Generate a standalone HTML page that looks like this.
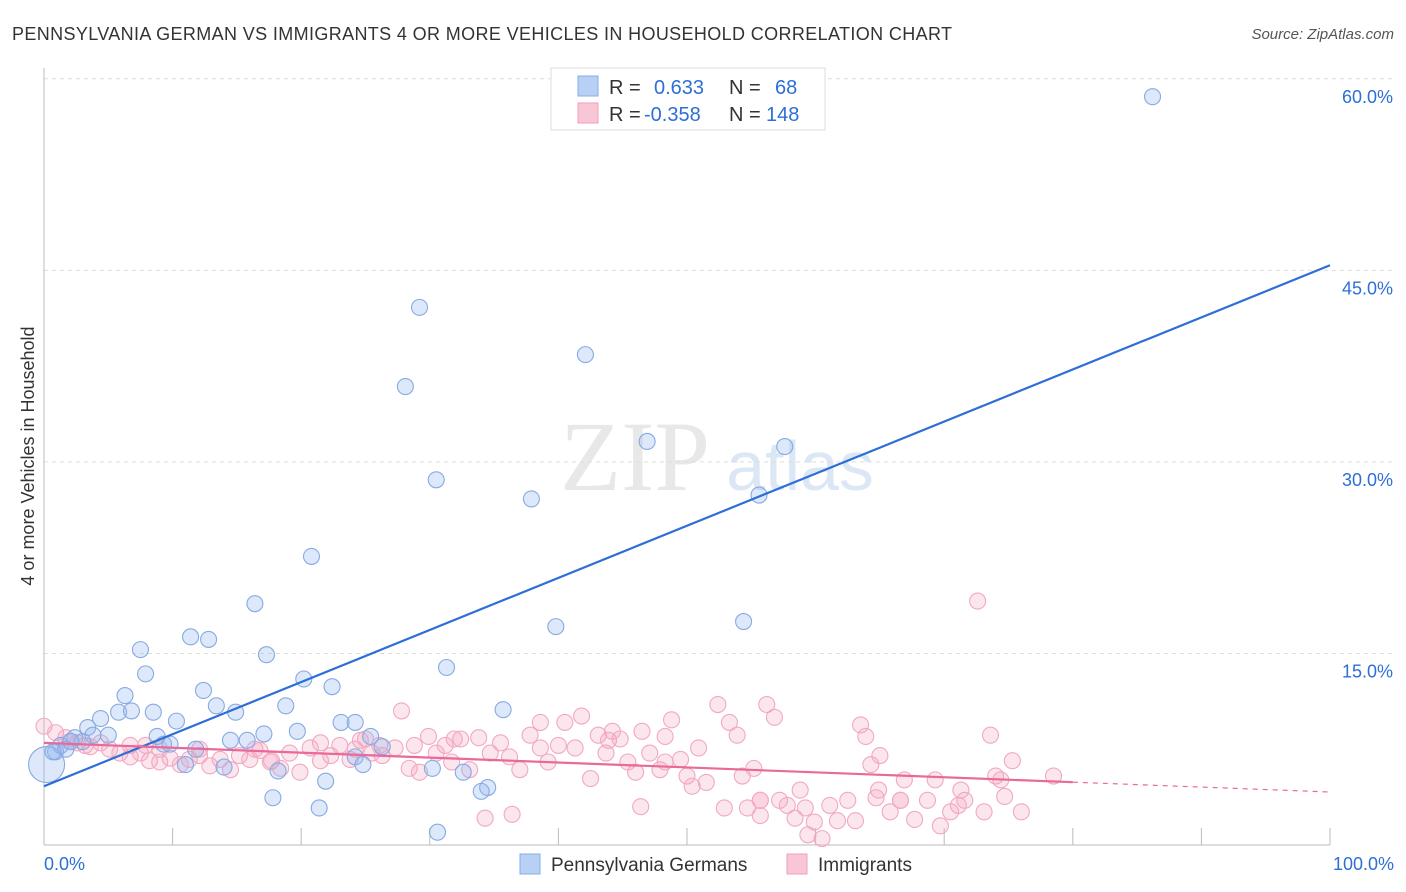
<!DOCTYPE html>
<html><head><meta charset="utf-8"><style>
body{margin:0;background:#fff;font-family:"Liberation Sans",sans-serif;}
#wrap{position:relative;width:1406px;height:892px;overflow:hidden;}
</style></head><body>
<div id="wrap">
<svg id="svg" width="1406" height="892" xmlns="http://www.w3.org/2000/svg">
<text x="12" y="40" font-size="18" fill="#333" textLength="940">PENNSYLVANIA GERMAN VS IMMIGRANTS 4 OR MORE VEHICLES IN HOUSEHOLD CORRELATION CHART</text>
<text x="1394" y="39" font-size="15" fill="#555" text-anchor="end" font-style="italic">Source: ZipAtlas.com</text>
<text x="0" y="0" transform="translate(34,456) rotate(-90)" font-size="18" fill="#333" text-anchor="middle">4 or more Vehicles in Household</text>
<text x="635" y="490" font-size="100" fill="#e8e8e8" font-family="Liberation Serif,serif" text-anchor="middle">ZIP</text>
<text x="800" y="490" font-size="70" fill="#dce7f6" text-anchor="middle">atlas</text>
<g id="grid"></g><g id="pts"></g><g id="lines"></g>
<rect x="551" y="68" width="274" height="62" fill="#fff" stroke="#ddd"/>
<rect x="578" y="76" width="20" height="20" fill="#b8d0f4" stroke="#86aee6"/>
<rect x="578" y="103" width="20" height="20" fill="#f9c6d6" stroke="#f0a0bb"/>
<g font-size="20">
<text x="609" y="94" fill="#333">R =</text><text x="654" y="94" fill="#2d6fd6">0.633</text>
<text x="729" y="94" fill="#333">N =</text><text x="775" y="94" fill="#2d6fd6">68</text>
<text x="609" y="121" fill="#333">R =</text><text x="644" y="121" fill="#2d6fd6">-0.358</text>
<text x="729" y="121" fill="#333">N =</text><text x="766" y="121" fill="#2d6fd6">148</text>
</g>
<rect x="520" y="854" width="20" height="20" fill="#b8d0f4" stroke="#86aee6"/>
<text x="551" y="871" font-size="19" fill="#333">Pennsylvania Germans</text>
<rect x="787" y="854" width="20" height="20" fill="#f9c6d6" stroke="#f0a0bb"/>
<text x="818" y="871" font-size="19" fill="#333">Immigrants</text>
<text x="44" y="870" font-size="18" fill="#2d6fd6">0.0%</text>
<text x="1394" y="870" font-size="18" fill="#2d6fd6" text-anchor="end">100.0%</text>
</svg>
</div>
<script>
const yTicks=[15,30,45,60];
const yTickLabels=["15.0%","30.0%","45.0%","60.0%"];
const blueX=[86.2,29.2,42.1,28.1,46.9,57.6,30.5,37.9,55.6,20.8,16.4,39.8,54.4,11.4,12.8,7.5,17.3,31.3,7.9,20.2,22.4,6.3,12.4,13.4,18.8,35.7,5.8,6.8,8.5,14.9,10.3,4.4,3.4,23.1,24.2,17.1,19.7,5.0,3.8,2.4,8.8,14.5,15.8,25.4,26.3,9.3,9.8,11.8,1.3,0.9,1.7,3.0,0.2,11.0,14.0,24.2,24.8,30.2,32.6,18.2,21.9,34.5,34.0,17.8,21.4,30.6,0.7,2.1];
const blueY=[58.6,42.1,38.4,35.9,31.6,31.2,28.6,27.1,27.4,22.6,18.9,17.1,17.5,16.3,16.1,15.3,14.9,13.9,13.4,13.0,12.4,11.7,12.1,10.9,10.9,10.6,10.4,10.5,10.4,10.4,9.7,9.9,9.2,9.6,9.6,8.7,8.9,8.6,8.6,8.4,8.5,8.2,8.2,8.5,7.7,7.9,7.9,7.5,7.8,7.3,7.5,8.1,6.3,6.3,6.1,6.9,6.3,6.0,5.7,5.8,5.0,4.5,4.2,3.7,2.9,1.0,7.3,8.1];
const pinkX=[0,0.9,1.7,2.6,3.6,4.4,5.1,5.9,6.7,7.5,8.2,9.0,9.8,10.6,11.3,12.1,12.9,13.7,14.5,15.2,16.0,16.8,17.6,18.4,19.1,19.9,20.7,21.5,22.3,23.0,23.8,24.6,25.5,26.3,27.3,27.8,28.4,29.2,29.9,30.5,31.2,31.7,32.4,33.1,33.8,34.7,35.5,36.2,37.0,37.8,38.6,39.2,40.0,40.5,41.3,41.8,42.5,43.1,43.7,44.2,44.8,45.4,46.0,46.5,47.1,47.9,48.3,48.8,49.5,50.0,50.4,50.9,51.5,52.4,52.9,53.3,53.9,54.3,54.7,55.2,55.7,56.2,56.8,57.2,57.8,58.4,58.8,59.4,59.9,60.5,61.1,61.7,62.5,63.1,63.5,63.9,64.3,64.7,65.0,65.8,66.6,66.9,67.7,68.7,69.3,69.7,70.5,71.1,71.6,72.6,73.1,73.6,74.0,74.4,74.7,75.3,76.0,78.5,34.3,36.4,46.4,2.0,3.2,6.7,7.9,9.0,12.1,16.4,17.7,21.5,24.2,25.0,26.1,28.8,31.9,38.6,43.9,48.3,55.7,55.7,66.6,64.9,71.3,59.2];
const pinkY=[9.3,8.8,8.4,8.0,7.7,8.0,7.5,7.2,6.9,7.2,6.6,6.5,6.8,6.3,6.7,7.0,6.2,6.7,5.9,7.0,6.7,7.4,6.5,6.0,7.2,5.7,7.6,8.0,7.0,7.8,6.7,8.2,7.2,7.0,7.6,10.5,6.0,5.7,8.5,7.2,7.8,6.5,8.3,5.9,8.4,7.2,8.0,6.9,5.9,8.6,7.6,6.5,7.8,9.6,7.6,10.1,5.2,8.6,7.2,8.9,8.3,6.5,5.7,8.9,7.2,5.9,6.5,9.8,6.7,5.4,4.6,7.6,4.9,11.0,2.9,9.6,8.6,5.4,2.9,6.0,3.5,11.0,10.0,3.5,3.1,2.1,4.3,0.8,1.8,0.5,3.1,1.9,3.5,1.9,9.4,8.5,6.3,3.7,7.0,2.6,3.5,5.1,2.0,3.5,5.1,1.5,2.6,3.1,3.5,19.1,2.6,8.6,5.4,5.1,3.8,6.6,2.6,5.4,2.1,2.4,3.0,8.1,7.8,7.8,7.8,7.5,7.5,7.5,6.6,6.6,7.5,8.3,7.8,7.8,8.3,9.6,8.2,8.5,3.5,2.3,3.5,4.3,4.3,2.9];
const blueTrend=[4.6,45.4];
const pinkTrend=[8.0,4.15];
const pinkSolidEnd=80;

const X=v=>44+v*12.86, Y=v=>845-v*12.77;
const NS="http://www.w3.org/2000/svg";
function mk(tag,attrs,parent){const e=document.createElementNS(NS,tag);for(const k in attrs)e.setAttribute(k,attrs[k]);parent.appendChild(e);return e;}
const grid=document.getElementById('grid'),pts=document.getElementById('pts'),lines=document.getElementById('lines');
yTicks.forEach((t,i)=>{
 const l=mk('line',{x1:44,x2:1394,y1:Y(t),y2:Y(t),stroke:'#ddd','stroke-dasharray':'4,4'},grid);
 
 
 const tx=mk('text',{x:1393,y:Y(t)+24,'font-size':18,fill:'#2d6fd6','text-anchor':'end'},grid);
 tx.textContent=yTickLabels[i];
 
 
});
const ax=mk('line',{x1:44,x2:1330,y1:845,y2:845,stroke:'#bbb'},grid);


const ay=mk('line',{x1:44,x2:44,y1:68,y2:845,stroke:'#bbb'},grid);


for(let i=0;i<=10;i++){
 const t=mk('line',{x1:X(i*10),x2:X(i*10),y1:828,y2:845,stroke:'#bbb'},grid);
 
 
}
pinkX.forEach((v,i)=>{
 const c=mk('circle',{cx:X(v),cy:Y(pinkY[i]),r:8,fill:'rgba(245,165,192,0.28)',stroke:'#f2a8c0','stroke-width':1.1},pts);
 
 
});
blueX.forEach((v,i)=>{
 const c=mk('circle',{cx:X(v),cy:Y(blueY[i]),r:(v<0.5?18:8),fill:'rgba(150,185,240,0.32)',stroke:'#86aae2','stroke-width':1.1},pts);
 
 
});
const bl=mk('line',{x1:X(0),y1:Y(blueTrend[0]),x2:X(100),y2:Y(blueTrend[1]),stroke:'#2d6fd6','stroke-width':2.2},lines);


const pm=pinkTrend[0]+(pinkTrend[1]-pinkTrend[0])*pinkSolidEnd/100;
const pl=mk('line',{x1:X(0),y1:Y(pinkTrend[0]),x2:X(pinkSolidEnd),y2:Y(pm),stroke:'#e8699a','stroke-width':2.2},lines);


const pd=mk('line',{x1:X(pinkSolidEnd),y1:Y(pm),x2:X(100),y2:Y(pinkTrend[1]),stroke:'#e8699a','stroke-width':1.2,'stroke-dasharray':'5,5'},lines);


</script>
</body></html>
